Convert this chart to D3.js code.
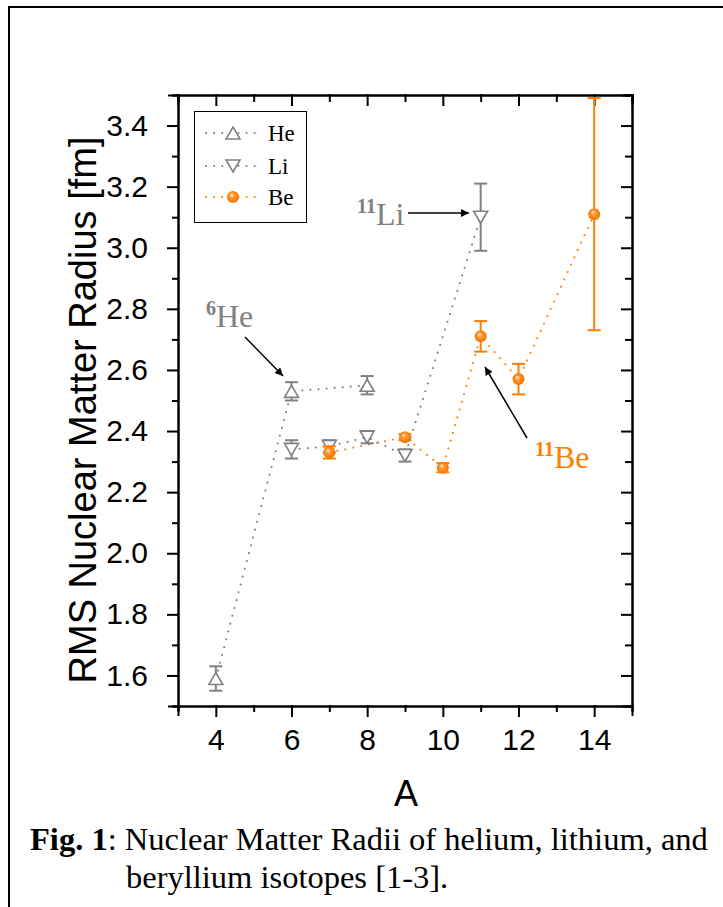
<!DOCTYPE html>
<meta charset="utf-8">
<head>
<title>Nuclear Matter Radii</title>
<style>
  body { margin: 0; background: #fff; }
  .tick text { font-family: "Liberation Sans", Arial, sans-serif; font-size: 30px; fill: #000; }
  .domain, .tick line { stroke: #000; stroke-width: 2; }
  .serif { font-family: "Liberation Serif", "Times New Roman", serif; }
</style>
</head>
<body>
<svg width="723" height="907"></svg>
<script src="https://cdnjs.cloudflare.com/ajax/libs/d3/7.8.5/d3.min.js"></script>
<script>

// data
var heA = [4, 6, 8],
    heR = [1.59, 2.53, 2.55],
    heErr = [0.04, 0.03, 0.03];

var liA = [6, 7, 8, 9, 11],
    liR = [2.34, 2.35, 2.38, 2.32, 3.10],
    liErr = [0.03, 0.02, 0.02, 0.02, 0.11];

var beA = [7, 9, 10, 11, 12, 14],
    beR = [2.33, 2.38, 2.28, 2.71, 2.57, 3.11],
    beErr = [0.02, 0.01, 0.015, 0.05, 0.05, 0.38];

var xTicks = [4, 6, 8, 10, 12, 14],
    yTicks = [1.6, 1.8, 2.0, 2.2, 2.4, 2.6, 2.8, 3.0, 3.2, 3.4];

var grey = "#808080", orange = "#ff8000";

var svg = d3.select("svg");

// outer frame (left and top edges visible)
svg.append("path").attr("d", "M9,907V7H723").attr("fill", "none")
   .attr("stroke", "#000").attr("stroke-width", 2);

// plot box (note: "top" is taken by window.top, so use other names)
var pLeft = 178, pRight = 632, pTop = 95, pBottom = 706;

var x = d3.scaleLinear().domain([3, 15]).range([pLeft, pRight]);
var y = d3.scaleLinear().domain([1.5, 3.5]).range([pBottom, pTop]);

var defs = svg.append("defs");
var grad = defs.append("radialGradient").attr("id", "ball")
    .attr("cx", "50%").attr("cy", "50%").attr("r", "55%")
    .attr("fx", "38%").attr("fy", "32%");
grad.append("stop").attr("offset", "0%").attr("stop-color", "#fff0d8");
grad.append("stop").attr("offset", "35%").attr("stop-color", "#ff9a30");
grad.append("stop").attr("offset", "100%").attr("stop-color", "#f07000");

defs.append("marker").attr("id", "arrow")
    .attr("viewBox", "0 0 10 10").attr("refX", 10).attr("refY", 5)
    .attr("markerWidth", 12).attr("markerHeight", 8)
    .attr("markerUnits", "userSpaceOnUse").attr("orient", "auto")
  .append("path").attr("d", "M0,0L10,5L0,10z").attr("fill", "#000");

// axes: major + minor ticks
var xMinor = d3.range(3, 15.5, 1).filter(function(d) { return d % 2 !== 0; });
var yMinor = d3.range(15, 36, 1).map(function(d) { return d / 10; })
    .filter(function(d) { return Math.round(d * 10) % 2 !== 0; });

svg.append("g").attr("transform", "translate(0," + pBottom + ")")
   .call(d3.axisBottom(x).tickValues(xMinor).tickSize(5).tickFormat(""));
svg.append("g").attr("transform", "translate(0," + pBottom + ")")
   .call(d3.axisBottom(x).tickValues(xTicks).tickSize(10).tickPadding(13).tickFormat(d3.format("d")));
svg.append("g").attr("transform", "translate(0," + pTop + ")")
   .call(d3.axisTop(x).tickValues(xMinor).tickSize(-6).tickFormat(""));
svg.append("g").attr("transform", "translate(0," + pTop + ")")
   .call(d3.axisTop(x).tickValues(xTicks).tickSize(-10).tickFormat(""));

svg.append("g").attr("transform", "translate(" + pLeft + ",0)")
   .call(d3.axisLeft(y).tickValues(yMinor).tickSize(5).tickFormat(""));
svg.append("g").attr("transform", "translate(" + pLeft + ",0)")
   .call(d3.axisLeft(y).tickValues(yTicks).tickSize(10).tickPadding(20).tickFormat(d3.format(".1f")));
svg.append("g").attr("transform", "translate(" + pRight + ",0)")
   .call(d3.axisRight(y).tickValues(yMinor).tickSize(-6).tickFormat(""));
svg.append("g").attr("transform", "translate(" + pRight + ",0)")
   .call(d3.axisRight(y).tickValues(yTicks).tickSize(-10).tickFormat(""));

svg.selectAll(".tick line").attr("stroke-linecap", "square");

// axis titles
svg.append("text").attr("x", 406).attr("y", 806).attr("text-anchor", "middle")
   .style("font", "36px 'Liberation Sans', Arial, sans-serif").text("A");
svg.append("text").attr("transform", "translate(96,410) rotate(-90)")
   .attr("text-anchor", "middle")
   .style("font", "38px 'Liberation Sans', Arial, sans-serif").text("RMS Nuclear Matter Radius [fm]");

function rows(a, r, e) {
  return a.map(function(d, i) { return { a: d, r: r[i], e: e[i] }; });
}
var he = rows(heA, heR, heErr), li = rows(liA, liR, liErr), be = rows(beA, beR, beErr);

var line = d3.line().x(function(d) { return x(d.a); }).y(function(d) { return y(d.r); });

function drawLine(data, col) {
  svg.append("path").datum(data).attr("d", line).attr("fill", "none")
     .attr("stroke", col).attr("stroke-width", 2)
     .attr("stroke-dasharray", "0.1,8").attr("stroke-linecap", "round");
}
drawLine(he, grey);
drawLine(li, grey);
drawLine(be, orange);

function drawErr(data, col) {
  var g = svg.append("g").attr("stroke", col).attr("stroke-width", 2);
  data.forEach(function(d) {
    var cx = x(d.a), y1 = y(d.r + d.e), y0 = y(d.r - d.e);
    g.append("line").attr("x1", cx).attr("x2", cx).attr("y1", y1).attr("y2", y0);
    g.append("line").attr("x1", cx - 6.5).attr("x2", cx + 6.5).attr("y1", y1).attr("y2", y1);
    g.append("line").attr("x1", cx - 6.5).attr("x2", cx + 6.5).attr("y1", y0).attr("y2", y0);
  });
}

function tri(cx, cy, up) {
  var h = 6, w = 7;
  return up ? "M" + cx + "," + (cy - h) + "L" + (cx + w) + "," + (cy + h) + "L" + (cx - w) + "," + (cy + h) + "Z"
            : "M" + cx + "," + (cy + h) + "L" + (cx + w) + "," + (cy - h) + "L" + (cx - w) + "," + (cy - h) + "Z";
}

function drawTri(data, up) {
  svg.append("g").selectAll("path").data(data).join("path")
     .attr("d", function(d) { return tri(x(d.a), y(d.r), up); })
     .attr("fill", "#fff").attr("stroke", grey).attr("stroke-width", 1.6);
}

drawErr(li, grey);
drawTri(li, false);
drawErr(he, grey);
drawTri(he, true);
drawErr(be, orange);
svg.append("g").selectAll("circle").data(be).join("circle")
   .attr("cx", function(d) { return x(d.a); }).attr("cy", function(d) { return y(d.r); })
   .attr("r", 6).attr("fill", "url(#ball)");

// legend
var lg = svg.append("g");
lg.append("rect").attr("x", 194.5).attr("y", 111.5).attr("width", 112).attr("height", 111)
  .attr("fill", "#fff").attr("stroke", "#000").attr("stroke-width", 1);
var legendItems = [
  { name: "He", col: grey, sym: "up", yy: 133 },
  { name: "Li", col: grey, sym: "down", yy: 166 },
  { name: "Be", col: orange, sym: "ball", yy: 197 }
];
legendItems.forEach(function(it) {
  lg.append("line").attr("x1", 206).attr("x2", 258).attr("y1", it.yy).attr("y2", it.yy)
    .attr("stroke", it.col).attr("stroke-width", 2)
    .attr("stroke-dasharray", "0.1,8").attr("stroke-linecap", "round");
  if (it.sym === "ball") {
    lg.append("circle").attr("cx", 233).attr("cy", it.yy).attr("r", 6).attr("fill", "url(#ball)");
  } else {
    lg.append("path").attr("d", tri(233, it.yy, it.sym === "up"))
      .attr("fill", "#fff").attr("stroke", grey).attr("stroke-width", 1.6);
  }
  lg.append("text").attr("class", "serif").attr("x", 268).attr("y", it.yy + 8)
    .style("font-size", "23px").text(it.name);
});

// annotations
function label(xx, yy, sup, base, col) {
  var t = svg.append("text").attr("class", "serif").attr("x", xx).attr("y", yy)
     .attr("fill", col).style("font-size", "32px");
  t.append("tspan").attr("dy", -12).style("font-size", "20px").style("font-weight", "bold").text(sup);
  t.append("tspan").attr("dy", 12).text(base);
}
label(206, 327, "6", "He", grey);
label(357, 225, "11", "Li", grey);
label(535, 468, "11", "Be", orange);

function arrow(x1, y1, x2, y2) {
  svg.append("line").attr("x1", x1).attr("y1", y1).attr("x2", x2).attr("y2", y2)
     .attr("stroke", "#000").attr("stroke-width", 1.5).attr("marker-end", "url(#arrow)");
}
arrow(245, 337, 283, 376);
arrow(408, 213, 469, 213);
arrow(527, 438, 485, 367);

// caption
var cap = svg.append("text").attr("class", "serif").attr("x", 30).attr("y", 850).style("font-size", "32.5px");
cap.append("tspan").style("font-weight", "bold").text("Fig. 1");
cap.append("tspan").text(": Nuclear Matter Radii of helium, lithium, and");
svg.append("text").attr("class", "serif").attr("x", 126).attr("y", 888).style("font-size", "32.5px")
   .text("beryllium isotopes [1-3].");

</script>
</body>
